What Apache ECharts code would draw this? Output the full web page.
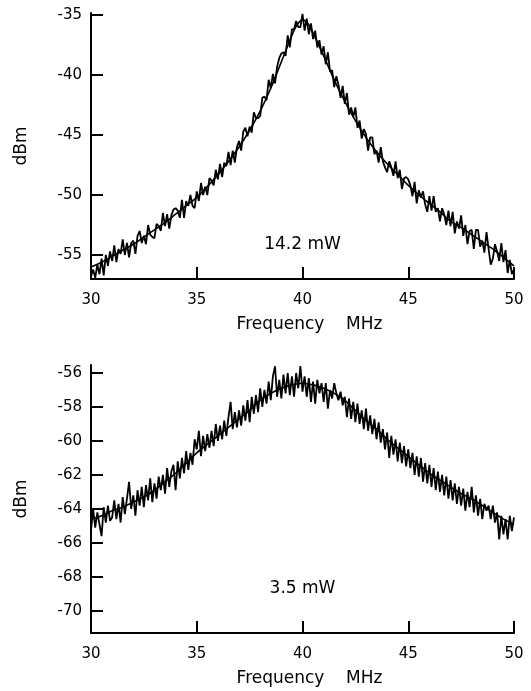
<!DOCTYPE html>
<html>
<head>
<meta charset="utf-8">
<script src="https://cdn.jsdelivr.net/npm/echarts@6/dist/echarts.min.js"></script>
<style>
html,body{margin:0;padding:0;background:#fff;}
#chart{width:531px;height:691px;}
</style>
</head>
<body>
<div id="chart"></div>
<script>
// ---------- data ----------
const freqStart = 30;
const freqStep = 0.1;

// measured trace, 14.2 mW (30.0 ... 50.0 MHz, step 0.1)
const topTrace = [
  -56.8,-56.2,-56.9,-55.8,-56.6,-55.3,-56.7,-55.0,-55.9,-54.7,
  -55.5,-54.2,-55.6,-54.5,-54.9,-53.7,-55.0,-54.0,-55.2,-54.0,
  -53.8,-54.9,-53.4,-53.0,-54.0,-53.4,-54.1,-52.5,-53.3,-53.5,
  -53.6,-52.4,-52.6,-53.0,-51.5,-52.6,-51.6,-52.8,-51.7,-51.2,
  -51.1,-51.3,-51.9,-50.4,-51.9,-50.5,-50.9,-50.0,-50.9,-51.1,
  -49.7,-50.5,-49.0,-50.0,-49.3,-50.0,-48.6,-48.8,-49.2,-47.9,
  -48.7,-47.4,-48.5,-47.3,-47.6,-46.4,-47.5,-46.3,-47.3,-46.0,
  -45.5,-46.3,-44.7,-44.4,-45.1,-44.3,-44.8,-43.1,-43.6,-43.6,
  -43.4,-41.9,-41.8,-42.1,-40.4,-41.1,-39.9,-40.7,-39.3,-38.6,
  -38.2,-38.1,-38.4,-36.7,-37.7,-36.2,-36.2,-35.5,-36.0,-36.0,
  -34.9,-36.3,-35.3,-36.6,-35.7,-37.0,-36.3,-37.7,-37.1,-38.3,
  -37.6,-39.1,-38.1,-39.7,-39.6,-41.0,-40.1,-40.8,-41.9,-40.9,
  -42.4,-41.5,-43.3,-42.7,-43.5,-42.7,-44.4,-43.8,-45.3,-44.5,
  -44.9,-46.3,-45.2,-45.2,-46.6,-46.3,-47.3,-46.0,-47.2,-47.7,
  -48.1,-47.2,-47.7,-48.4,-47.2,-48.6,-47.9,-49.5,-48.6,-48.5,
  -48.7,-49.2,-50.1,-48.9,-50.7,-49.6,-50.2,-49.7,-50.8,-51.4,
  -50.1,-51.3,-50.1,-51.4,-51.1,-52.2,-51.1,-51.6,-52.5,-51.3,
  -52.6,-51.4,-53.2,-52.2,-52.8,-51.7,-53.4,-52.5,-54.1,-53.0,
  -52.9,-54.5,-52.9,-52.9,-54.3,-53.8,-54.8,-53.1,-54.5,-55.8,
  -55.3,-54.1,-54.7,-55.5,-54.0,-55.6,-54.6,-56.5,-55.4,-56.6,
  -56.2
];

// fitted curve, 14.2 mW
const topFitFreq = [30,30.5,31,31.5,32,32.5,33,33.5,34,34.5,35,35.5,36,36.5,37,37.5,38,38.5,39,39.5,39.75,40,40.25,40.5,41,41.5,42,42.5,43,43.5,44,44.5,45,45.5,46,46.5,47,47.5,48,48.5,49,49.5,50];
const topFitDb = [-56.0,-55.6,-55.1,-54.6,-54.1,-53.5,-52.9,-52.3,-51.6,-50.9,-50.2,-49.3,-48.3,-47.2,-46.0,-44.6,-43.0,-41.1,-38.9,-36.7,-35.8,-35.4,-35.7,-36.5,-38.4,-40.4,-42.2,-43.8,-45.2,-46.4,-47.4,-48.3,-49.2,-50.0,-50.7,-51.4,-52.2,-52.7,-53.3,-53.9,-54.5,-55.2,-55.9];

// measured trace, 3.5 mW (30.0 ... 50.0 MHz, step 0.1)
const bottomTrace = [
  -65.3,-64.0,-65.1,-64.2,-64.9,-65.6,-63.9,-64.8,-63.8,-64.7,
  -64.5,-63.5,-64.6,-63.7,-64.8,-63.3,-64.3,-63.4,-62.4,-64.0,
  -63.2,-64.4,-62.9,-63.8,-62.7,-63.9,-62.6,-63.5,-62.2,-63.6,
  -62.5,-63.4,-62.1,-62.9,-62.0,-63.1,-61.6,-62.7,-61.8,-61.4,
  -62.9,-61.2,-62.2,-61.0,-61.9,-60.6,-61.7,-60.7,-61.4,-59.9,
  -60.5,-59.4,-60.9,-59.7,-60.6,-59.6,-60.4,-59.4,-60.3,-59.0,
  -60.0,-59.1,-59.9,-58.8,-59.7,-58.6,-57.7,-59.3,-58.3,-59.2,
  -58.2,-59.1,-57.9,-58.8,-57.6,-58.9,-57.4,-58.4,-57.3,-58.3,
  -56.9,-58.0,-57.0,-57.8,-56.5,-57.6,-56.2,-55.6,-57.4,-56.4,
  -57.5,-56.1,-57.2,-56.0,-57.3,-56.2,-57.4,-56.0,-56.9,-55.6,
  -57.1,-56.2,-57.4,-56.3,-57.7,-56.5,-57.8,-56.4,-57.2,-56.6,
  -57.7,-56.6,-58.1,-57.0,-57.5,-56.6,-57.2,-57.6,-57.1,-57.9,
  -57.4,-58.6,-57.5,-58.7,-57.7,-58.9,-57.8,-59.0,-58.2,-59.3,
  -58.1,-59.4,-58.5,-59.6,-58.7,-59.9,-58.9,-60.1,-59.3,-60.5,
  -59.5,-61.0,-59.7,-60.8,-59.9,-61.2,-60.1,-61.3,-60.3,-61.5,
  -60.5,-61.6,-60.7,-62.0,-60.9,-62.1,-61.0,-62.4,-61.3,-62.5,
  -61.4,-62.7,-61.6,-62.9,-61.8,-63.0,-62.0,-63.2,-62.1,-63.4,
  -62.3,-63.5,-62.5,-63.7,-62.7,-63.8,-62.8,-64.1,-63.0,-63.9,
  -62.7,-64.2,-63.2,-64.4,-63.4,-64.6,-63.7,-64.1,-63.8,-64.6,
  -63.8,-64.8,-64.2,-65.8,-64.4,-65.5,-64.6,-65.8,-64.4,-65.3,
  -64.5
];

// fitted curve, 3.5 mW
const bottomFitFreq = [30,30.5,31,31.5,32,32.5,33,33.5,34,34.5,35,35.5,36,36.5,37,37.5,38,38.5,39,39.5,40,40.5,41,41.5,42,42.5,43,43.5,44,44.5,45,45.5,46,46.5,47,47.5,48,48.5,49,49.5,50];
const bottomFitDb = [-64.6,-64.4,-64.1,-63.9,-63.6,-63.3,-62.9,-62.4,-61.9,-61.3,-60.7,-60.2,-59.7,-59.2,-58.7,-58.2,-57.6,-57.2,-56.9,-56.7,-56.6,-56.7,-56.9,-57.2,-57.6,-58.2,-58.8,-59.3,-59.9,-60.4,-60.9,-61.4,-61.9,-62.3,-62.7,-63.1,-63.4,-63.8,-64.2,-64.6,-64.9];

// axes
const xTicks = [30, 35, 40, 45, 50];
const topYTicks = [-55, -50, -45, -40, -35];
const bottomYTicks = [-70, -68, -66, -64, -62, -60, -58, -56];
const topYRange = [-57, -34.83];
const bottomYRange = [-71.3, -55.53];

// annotations
const annotationText = ['14.2 mW', '3.5 mW'];
const annotationAt = [[40, -54.1], [40, -68.7]];

const xName = 'Frequency    MHz';
const yName = 'dBm';

// ---------- chart ----------
const FONT = 'DejaVu Sans';
const chart = echarts.init(document.getElementById('chart'), null, {renderer: 'canvas'});

function traceData(arr) {
  return arr.map((v, i) => [Math.round((freqStart + i * freqStep) * 100) / 100, v]);
}
function pairData(xs, ys) {
  return xs.map((x, i) => [x, ys[i]]);
}

function xAxisCfg(gridIndex) {
  return {
    type: 'value', gridIndex, min: 30, max: 50, interval: 5,
    name: xName, nameLocation: 'middle', nameGap: 37,
    nameTextStyle: {fontFamily: FONT, fontSize: 17, color: '#000', padding: [0, 0, 0, 14]},
    axisLine: {show: true, onZero: false, lineStyle: {color: '#000', width: 2}},
    axisTick: {show: true, inside: true, length: 12, lineStyle: {color: '#000', width: 2}, customValues: xTicks},
    axisLabel: {fontFamily: FONT, fontSize: 15, color: '#000', margin: 14, customValues: xTicks},
    splitLine: {show: false}
  };
}
function yAxisCfg(gridIndex, range, ticks) {
  return {
    type: 'value', gridIndex, min: range[0], max: range[1],
    name: yName, nameLocation: 'middle', nameGap: 61,
    nameTextStyle: {fontFamily: FONT, fontSize: 17, color: '#000'},
    axisLine: {show: true, onZero: false, lineStyle: {color: '#000', width: 2}},
    axisTick: {show: true, inside: true, length: 12, lineStyle: {color: '#000', width: 2}, customValues: ticks},
    axisLabel: {fontFamily: FONT, fontSize: 15, color: '#000', margin: 9, customValues: ticks},
    splitLine: {show: false}
  };
}

const lineBase = {type: 'line', showSymbol: false, symbol: 'none', silent: true, animation: false};

function annotationSeries(axisIndex, k) {
  return {
    type: 'scatter', xAxisIndex: axisIndex, yAxisIndex: axisIndex, silent: true,
    symbol: 'circle', symbolSize: 1,
    itemStyle: {color: '#fff', opacity: 1},
    data: [annotationAt[k]],
    label: {show: true, position: 'inside', formatter: annotationText[k],
      fontFamily: FONT, fontSize: 17, color: '#000', textBorderWidth: 0, opacity: 1}
  };
}

chart.setOption({
  backgroundColor: '#fff',
  animation: false,
  grid: [
    {left: 91, width: 423, top: 13, height: 266},
    {left: 91, width: 423, top: 365, height: 268}
  ],
  xAxis: [xAxisCfg(0), xAxisCfg(1)],
  yAxis: [yAxisCfg(0, topYRange, topYTicks), yAxisCfg(1, bottomYRange, bottomYTicks)],
  series: [
    Object.assign({}, lineBase, {xAxisIndex: 0, yAxisIndex: 0, data: pairData(topFitFreq, topFitDb), smooth: 0.3,
      lineStyle: {color: '#000', width: 1.6}}),
    Object.assign({}, lineBase, {xAxisIndex: 0, yAxisIndex: 0, data: traceData(topTrace),
      lineStyle: {color: '#000', width: 1.8}}),
    Object.assign({}, lineBase, {xAxisIndex: 1, yAxisIndex: 1, data: pairData(bottomFitFreq, bottomFitDb), smooth: 0.3,
      lineStyle: {color: '#000', width: 1.6}}),
    Object.assign({}, lineBase, {xAxisIndex: 1, yAxisIndex: 1, data: traceData(bottomTrace),
      lineStyle: {color: '#000', width: 1.8}}),
    annotationSeries(0, 0),
    annotationSeries(1, 1)
  ]
});
</script>
</body>
</html>
